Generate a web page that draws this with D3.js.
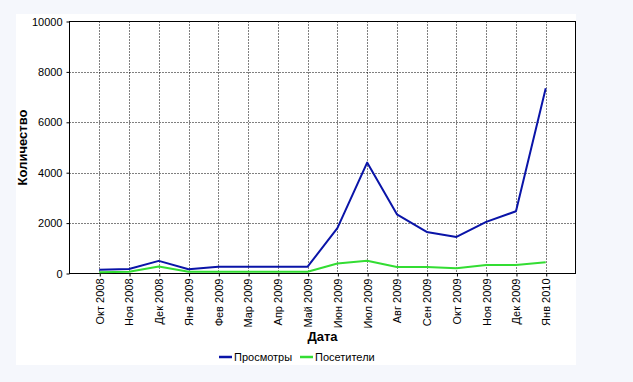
<!DOCTYPE html>
<html><head><meta charset="utf-8">
<script src="https://cdn.jsdelivr.net/npm/d3@7"></script>
<style>
html,body{margin:0;padding:0;background:#f5f7fc;}
svg{display:block;font-family:"Liberation Sans",Arial,sans-serif;}
</style></head>
<body>
<svg id="chart" width="633" height="382"></svg>
<script>
const categories = ["Окт 2008","Ноя 2008","Дек 2008","Янв 2009","Фев 2009","Мар 2009","Апр 2009","Май 2009","Июн 2009","Июл 2009","Авг 2009","Сен 2009","Окт 2009","Ноя 2009","Дек 2009","Янв 2010"];
const views    = [150, 180, 500, 170, 270, 270, 270, 270, 1800, 4400, 2350, 1650, 1450, 2050, 2470, 7350];
const visitors = [50, 70, 280, 70, 70, 70, 70, 70, 400, 510, 260, 260, 210, 340, 340, 450];
const yTicks = [0, 2000, 4000, 6000, 8000, 10000];
const seriesNames = ["Просмотры", "Посетители"];
const seriesColors = ["#0a14a8", "#33dd33"];

const svg = d3.select("#chart");
svg.append("rect").attr("x",16).attr("y",14).attr("width",560).attr("height",351).attr("fill","#fff");

const L = 69.5, R = 575.5, T = 21.5, B = 273.5;
const x = d3.scalePoint().domain(categories).range([L, R]).padding(1);
const y = d3.scaleLinear().domain([0, 10000]).range([B, T]);

const g = svg.append("g");
// grid
g.selectAll(".vg").data(categories).join("line")
  .attr("x1", d => Math.round(x(d))+0.5).attr("x2", d => Math.round(x(d))+0.5)
  .attr("y1", T).attr("y2", B)
  .attr("stroke","#000").attr("stroke-dasharray","1,2");
g.selectAll(".hg").data(yTicks.filter(t => t>0 && t<10000)).join("line")
  .attr("x1", L).attr("x2", R)
  .attr("y1", d => Math.round(y(d))+0.5).attr("y2", d => Math.round(y(d))+0.5)
  .attr("stroke","#000").attr("stroke-dasharray","1,2");

// axes
const yAxis = d3.axisLeft(y).tickValues(yTicks).tickSize(3).tickPadding(4).tickFormat(d3.format("d"));
const ya = svg.append("g").attr("transform",`translate(${L},0)`).call(yAxis);
ya.select(".domain").remove();
ya.selectAll("text").attr("font-size","11px").attr("fill","#000").attr("font-family","Liberation Sans, Arial, sans-serif");

const xAxis = d3.axisBottom(x).tickSize(3).tickPadding(4);
const xa = svg.append("g").attr("transform",`translate(0,${B})`).call(xAxis);
xa.select(".domain").remove();
xa.selectAll(".tick line").attr("transform","translate(0.5,0)");
xa.selectAll("text").attr("font-size","11px").attr("fill","#000")
  .attr("font-family","Liberation Sans, Arial, sans-serif")
  .attr("text-anchor","end").attr("dy","0.35em")
  .attr("transform","translate(0,5) rotate(-90)").attr("x",0).attr("y",0);

// frame
svg.append("rect").attr("x",L).attr("y",T).attr("width",R-L).attr("height",B-T)
  .attr("fill","none").attr("stroke","#000").attr("stroke-width",1);

// lines
const line = d3.line().x((d,i) => x(categories[i])).y(d => y(d));
[views, visitors].forEach((s, k) => {
  svg.append("path").datum(s).attr("d", line).attr("fill","none")
    .attr("stroke", seriesColors[k]).attr("stroke-width", 2).attr("stroke-linejoin","round");
});

// titles
svg.append("text").attr("x",(L+R)/2).attr("y",341).attr("text-anchor","middle")
  .attr("font-size","13px").attr("font-weight","bold").text("Дата");
svg.append("text").attr("transform",`translate(27,${(T+B)/2}) rotate(-90)`).attr("text-anchor","middle")
  .attr("font-size","13px").attr("font-weight","bold").text("Количество");

// legend
const legX = [219, 300];
seriesNames.forEach((n, k) => {
  svg.append("line").attr("x1",legX[k]).attr("x2",legX[k]+13).attr("y1",357).attr("y2",357)
    .attr("stroke",seriesColors[k]).attr("stroke-width",2.5);
  svg.append("text").attr("x",legX[k]+15).attr("y",361).attr("font-size","11px").text(n);
});
</script>
</body></html>
